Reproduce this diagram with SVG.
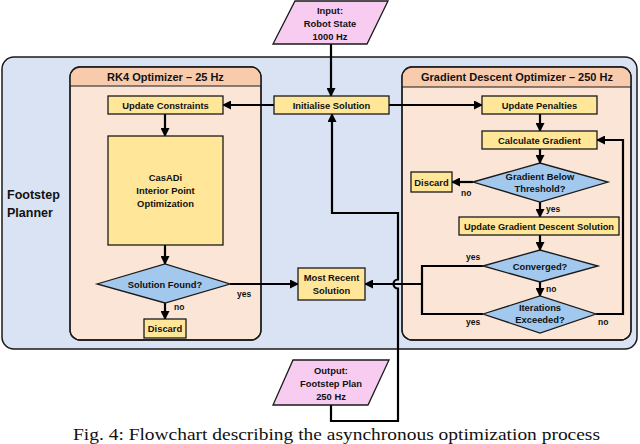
<svg xmlns="http://www.w3.org/2000/svg" width="640" height="444" viewBox="0 0 640 444">
<defs>
<style>
.lbl{font-family:"Liberation Sans",Arial,sans-serif;font-weight:bold;font-size:9.4px;fill:#111;text-anchor:middle}
.ttl{font-family:"Liberation Sans",Arial,sans-serif;font-weight:bold;font-size:11px;fill:#111;text-anchor:middle}
.yn{font-family:"Liberation Sans",Arial,sans-serif;font-weight:bold;font-size:8.5px;fill:#111}
.box{fill:#FFE699;stroke:#1a1a1a;stroke-width:1.3}
.dia{fill:#A2C8EE;stroke:#1a1a1a;stroke-width:1.3}
.io{fill:#F8CCF0;stroke:#1a1a1a;stroke-width:1.3}
.panel{fill:#FBE5D6;stroke:#1a1a1a;stroke-width:1.3}
.hdr{fill:#F8CBAD}
.c{fill:none;stroke:#000;stroke-width:2.2}
.ca{fill:none;stroke:#000;stroke-width:2.2;marker-end:url(#ah)}
</style>
<marker id="ah" markerUnits="userSpaceOnUse" markerWidth="9" markerHeight="9" refX="8" refY="4.5" orient="auto">
<path d="M0,0 L9,4.5 L0,9 z" fill="#000"/>
</marker>
</defs>

<g id="footstep-planner">
<rect x="2" y="57" width="635" height="292" rx="12" fill="#DAE3F3" stroke="#1a1a1a" stroke-width="1.5"/>
<text class="ttl" style="font-size:12.5px;text-anchor:start" x="7" y="199">Footstep</text>
<text class="ttl" style="font-size:12.5px;text-anchor:start" x="7" y="217">Planner</text>
</g>

<g id="rk4-panel">
<rect class="panel" x="70" y="67" width="191" height="273" rx="10"/>
<path class="hdr" d="M70.6,86 L70.6,77 A9.4,9.4 0 0 1 80,67.6 L251,67.6 A9.4,9.4 0 0 1 260.4,77 L260.4,86 z"/>
<line x1="70" y1="86" x2="261" y2="86" stroke="#1a1a1a" stroke-width="1"/>
<rect x="70" y="67" width="191" height="273" rx="10" fill="none" stroke="#1a1a1a" stroke-width="1.3"/>
<text class="ttl" x="165.5" y="81">RK4 Optimizer – 25 Hz</text>
</g>

<g id="gd-panel">
<rect class="panel" x="402" y="67" width="229" height="273" rx="10"/>
<path class="hdr" d="M402.6,87 L402.6,77 A9.4,9.4 0 0 1 412,67.6 L621,67.6 A9.4,9.4 0 0 1 630.4,77 L630.4,87 z"/>
<line x1="402" y1="87" x2="631" y2="87" stroke="#1a1a1a" stroke-width="1"/>
<rect x="402" y="67" width="229" height="273" rx="10" fill="none" stroke="#1a1a1a" stroke-width="1.3"/>
<text class="ttl" x="517" y="81">Gradient Descent Optimizer – 250 Hz</text>
</g>

<g id="connectors">
<path class="ca" d="M331,44 L331,96"/>
<path class="ca" d="M274,105 L223,105"/>
<path class="ca" d="M389,105 L482,105"/>
<path class="ca" d="M165,114 L165,136"/>
<path class="ca" d="M165,245 L165,264"/>
<path class="ca" d="M165,303 L165,319"/>
<path class="ca" d="M230,284 L298,284"/>
<path class="ca" d="M540,114 L540,131"/>
<path class="ca" d="M540,149 L540,163"/>
<path class="ca" d="M473,182 L452,182"/>
<path class="ca" d="M540,202 L540,217"/>
<path class="ca" d="M540,235 L540,250"/>
<path class="ca" d="M540,282 L540,296"/>
<path class="ca" d="M596,314 L623,314 L623,140 L597,140"/>
<path class="c" d="M483,266 L422,266 L422,314 L483,314"/>
<path class="ca" d="M422,284 L365,284"/>
<path class="ca" d="M331,405 L331,421 L398,421 L398,288.5 A4.5,4.5 0 0 1 398,279.5 L398,213 L332,213 L332,114"/>
</g>

<g id="input">
<polygon class="io" points="295,1 388,1 367,44 273,44"/>
<text class="lbl" x="330" y="14">Input:</text>
<text class="lbl" x="330" y="27">Robot State</text>
<text class="lbl" x="330" y="40">1000 Hz</text>
</g>

<g id="initialise-solution">
<rect class="box" x="274" y="96" width="115" height="18"/>
<text class="lbl" x="331.5" y="108.5">Initialise Solution</text>
</g>

<g id="update-constraints">
<rect class="box" x="108" y="96" width="115" height="18"/>
<text class="lbl" x="165.5" y="108.5">Update Constraints</text>
</g>

<g id="casadi">
<rect class="box" x="108" y="136" width="115" height="109"/>
<text class="lbl" x="165.5" y="181">CasADi</text>
<text class="lbl" x="165.5" y="194">Interior Point</text>
<text class="lbl" x="165.5" y="207">Optimization</text>
</g>

<g id="solution-found">
<polygon class="dia" points="97,284 165,264 230,284 165,303"/>
<text class="lbl" x="165" y="287.5">Solution Found?</text>
<text class="yn" x="174" y="310">no</text>
<text class="yn" x="237" y="297">yes</text>
</g>

<g id="discard-left">
<rect class="box" x="144" y="319" width="42" height="19"/>
<text class="lbl" x="165" y="332">Discard</text>
</g>

<g id="most-recent-solution">
<rect class="box" x="298" y="268" width="67" height="32"/>
<text class="lbl" x="331.5" y="281">Most Recent</text>
<text class="lbl" x="331.5" y="294">Solution</text>
</g>

<g id="output">
<polygon class="io" points="293,360 389,360 368,405 273,405"/>
<text class="lbl" x="331" y="374">Output:</text>
<text class="lbl" x="331" y="387">Footstep Plan</text>
<text class="lbl" x="331" y="400">250 Hz</text>
</g>

<g id="update-penalties">
<rect class="box" x="482" y="96" width="115" height="18"/>
<text class="lbl" x="539.5" y="108.5">Update Penalties</text>
</g>

<g id="calculate-gradient">
<rect class="box" x="482" y="131" width="115" height="18"/>
<text class="lbl" x="539.5" y="143.5">Calculate Gradient</text>
</g>

<g id="gradient-below-threshold">
<polygon class="dia" points="473,182 540,163 608,182 540,202"/>
<text class="lbl" x="540" y="180">Gradient Below</text>
<text class="lbl" x="540" y="192">Threshold?</text>
<text class="yn" x="461" y="196">no</text>
<text class="yn" x="546" y="212">yes</text>
</g>

<g id="discard-right">
<rect class="box" x="411" y="172" width="41" height="20"/>
<text class="lbl" x="431.5" y="185.5">Discard</text>
</g>

<g id="update-gd-solution">
<rect class="box" x="459" y="217" width="160" height="18"/>
<text class="lbl" x="539" y="229.5" textLength="150" lengthAdjust="spacingAndGlyphs">Update Gradient Descent Solution</text>
</g>

<g id="converged">
<polygon class="dia" points="483,266 540,250 598,266 540,282"/>
<text class="lbl" x="540" y="269.5">Converged?</text>
<text class="yn" x="466" y="260">yes</text>
<text class="yn" x="546" y="292">no</text>
</g>

<g id="iterations-exceeded">
<polygon class="dia" points="483,314 540,296 596,314 540,333"/>
<text class="lbl" x="540" y="311">Iterations</text>
<text class="lbl" x="540" y="323">Exceeded?</text>
<text class="yn" x="466" y="325">yes</text>
<text class="yn" x="598" y="325">no</text>
</g>

<text x="73" y="439.5" font-family="Liberation Serif,'Times New Roman',serif" font-size="17" fill="#111" textLength="527" lengthAdjust="spacingAndGlyphs">Fig. 4: Flowchart describing the asynchronous optimization process</text>
</svg>
